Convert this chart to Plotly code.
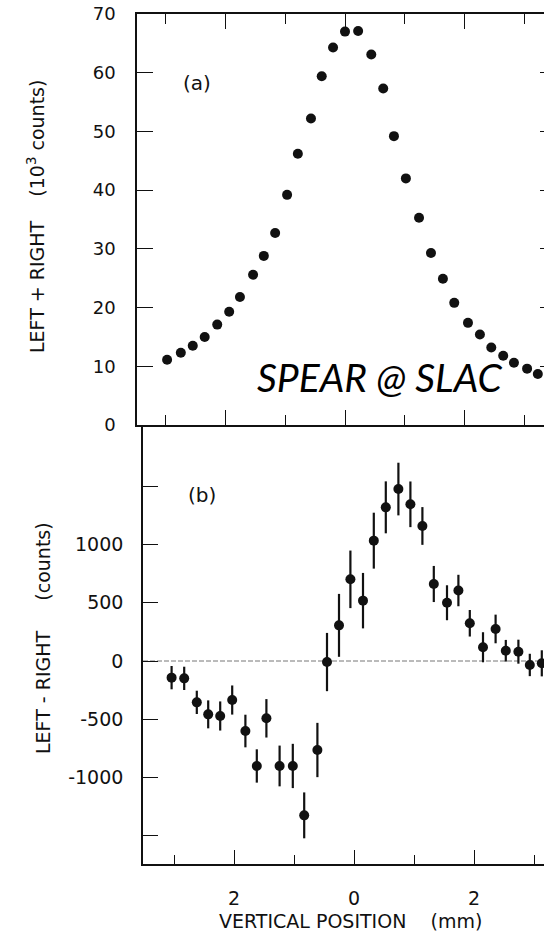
import plotly.graph_objects as go

# ---------------- data ----------------
# (a) LEFT + RIGHT, 10^3 counts vs vertical position (mm)
pos_a = [-2.98, -2.75, -2.55, -2.35, -2.14, -1.94, -1.76, -1.54, -1.36, -1.17,
         -0.97, -0.79, -0.57, -0.39, -0.20, 0.00, 0.22, 0.44, 0.64, 0.82,
         1.02, 1.24, 1.44, 1.64, 1.83, 2.06, 2.26, 2.45, 2.65, 2.83, 3.05, 3.23]
sum_a = [11.1, 12.3, 13.5, 15.0, 17.1, 19.3, 21.8, 25.6, 28.8, 32.7,
         39.2, 46.2, 52.2, 59.4, 64.3, 67.0, 67.1, 63.1, 57.3, 49.2,
         42.0, 35.3, 29.3, 24.9, 20.8, 17.4, 15.4, 13.2, 11.8, 10.6, 9.6, 8.7]

# (b) LEFT - RIGHT, counts, with errors
pos_b = [-3.04, -2.83, -2.62, -2.43, -2.23, -2.03, -1.81, -1.62, -1.46, -1.24,
         -1.02, -0.83, -0.61, -0.45, -0.25, -0.06, 0.15, 0.33, 0.53, 0.74,
         0.94, 1.14, 1.33, 1.55, 1.74, 1.93, 2.15, 2.36, 2.53, 2.74, 2.93, 3.13]
diff_b = [-143, -149, -355, -458, -472, -335, -601, -901, -492, -901,
          -901, -1325, -764, -9, 306, 701, 518, 1033, 1319, 1476,
          1345, 1159, 661, 500, 605, 324, 118, 275, 88, 80, -34, -20]
err_b = [100, 100, 100, 120, 125, 125, 140, 143, 165, 175,
         190, 197, 233, 250, 270, 247, 238, 240, 223, 226,
         196, 162, 155, 150, 135, 114, 129, 123, 93, 103, 96, 112]

y_ticks_a = [0, 10, 20, 30, 40, 50, 60, 70]
y_ticks_b = [1000, 500, 0, -500, -1000]
y_text_b = ["1000", "500", "0", "-500", "-1000"]
y_minor_b = [1500, -1500]
x_major = [-2, 0, 2]
x_major_text = ["2", "0", "2"]
x_minor = [-3, -1, 1, 3]

# ---------------- layout helpers ----------------
W, H = 544, 933
MT, MB = 14, 69
PH = H - MT - MB


def px_x(p):
    return p / W


def px_y(p):
    return (H - MB - p) / PH


INK = "#111111"
FONT = "DejaVu Sans"

fig = go.Figure()

fig.add_trace(go.Scatter(
    x=pos_a, y=sum_a, mode="markers", xaxis="x2", yaxis="y2",
    marker=dict(size=10, color=INK), cliponaxis=False, showlegend=False))

fig.add_trace(go.Scatter(
    x=pos_b, y=diff_b, mode="markers", xaxis="x", yaxis="y",
    marker=dict(size=10, color=INK),
    error_y=dict(type="data", array=err_b, visible=True, color=INK,
                 thickness=2.2, width=0),
    cliponaxis=False, showlegend=False))

# invisible trace for the right-hand tick marks of panel (a)
fig.add_trace(go.Scatter(x=[0], y=[0], xaxis="x2", yaxis="y3", mode="markers",
                         marker=dict(opacity=0), showlegend=False,
                         hoverinfo="skip"))

split = px_y(425)

fig.update_layout(
    width=W, height=H,
    margin=dict(l=0, r=0, t=MT, b=MB, pad=0),
    paper_bgcolor="white", plot_bgcolor="white",
    font=dict(family=FONT, color=INK, size=18),
    xaxis=dict(domain=[px_x(143), 1], anchor="y",
               range=[(143 - 354) / 60, (544 - 354) / 60],
               showgrid=False, zeroline=False,
               showline=True, linecolor=INK, linewidth=1.6,
               ticks="inside", ticklen=14, tickwidth=1.4, tickcolor=INK,
               tickvals=x_major, ticktext=x_major_text,
               tickfont=dict(size=19), ticklabelstandoff=16,
               minor=dict(tickvals=x_minor, ticks="inside", ticklen=9,
                          tickwidth=1.4, tickcolor=INK)),
    yaxis=dict(domain=[0, split], anchor="x",
               range=[(661 - 864) / 0.1165, (661 - 425) / 0.1165],
               showgrid=False, zeroline=False,
               showline=True, linecolor=INK, linewidth=1.6,
               ticks="inside", ticklen=15, tickwidth=1.4, tickcolor=INK,
               tickvals=y_ticks_b, ticktext=y_text_b,
               tickfont=dict(size=19), ticklabelstandoff=14,
               minor=dict(tickvals=y_minor_b, ticks="inside", ticklen=15,
                          tickwidth=1.4, tickcolor=INK)),
    xaxis2=dict(domain=[px_x(137), 1], anchor="y2",
                range=[(137 - 345) / 59.7, (544 - 345) / 59.7],
                showgrid=False, zeroline=False,
                showline=True, linecolor=INK, linewidth=1.6, mirror="ticks",
                ticks="inside", ticklen=15, tickwidth=1.4, tickcolor=INK,
                tickvals=x_major, showticklabels=False,
                minor=dict(tickvals=x_minor, ticks="inside", ticklen=10,
                           tickwidth=1.4, tickcolor=INK)),
    yaxis2=dict(domain=[split, 1], anchor="x2", range=[0, 70],
                showgrid=False, zeroline=False,
                showline=True, linecolor=INK, linewidth=1.6,
                ticks="inside", ticklen=16, tickwidth=1.4, tickcolor=INK,
                tickvals=y_ticks_a, tickfont=dict(size=18),
                ticklabelstandoff=16),
    yaxis3=dict(overlaying="y2", side="right", anchor="x2", range=[0, 70],
                showgrid=False, zeroline=False, showline=False,
                ticks="inside", ticklen=4, tickwidth=1.4, tickcolor=INK,
                tickvals=y_ticks_a, showticklabels=False),
)

# zero reference line in panel (b)
fig.add_shape(type="line", xref="x domain", yref="y", x0=0, x1=1, y0=0, y1=0,
              line=dict(color="#777777", width=1, dash="5px,2px"), layer="below")

ann = [
    dict(text="(a)", x=px_x(197), y=px_y(83), font=dict(size=20)),
    dict(text="(b)", x=px_x(202), y=px_y(495), font=dict(size=20)),
    dict(text="LEFT + RIGHT&nbsp;&nbsp;&nbsp;&nbsp;(10<sup>3</sup> counts)",
         x=px_x(36), y=px_y(217), textangle=-90, font=dict(size=19)),
    dict(text="LEFT - RIGHT&nbsp;&nbsp;&nbsp;&nbsp;&nbsp;(counts)",
         x=px_x(43), y=px_y(638), textangle=-90, font=dict(size=19)),
    dict(text="VERTICAL POSITION&nbsp;&nbsp;&nbsp;&nbsp;(mm)",
         x=px_x(350), y=px_y(921), font=dict(size=19)),
    dict(text="SPEAR @ SLAC", x=px_x(379), y=px_y(377),
         font=dict(family="Lato", size=39, style="italic", color="black")),
]
for a in ann:
    a.update(xref="paper", yref="paper", showarrow=False,
             xanchor="center", yanchor="middle")
    fig.add_annotation(**a)

fig.write_html("out.html")
